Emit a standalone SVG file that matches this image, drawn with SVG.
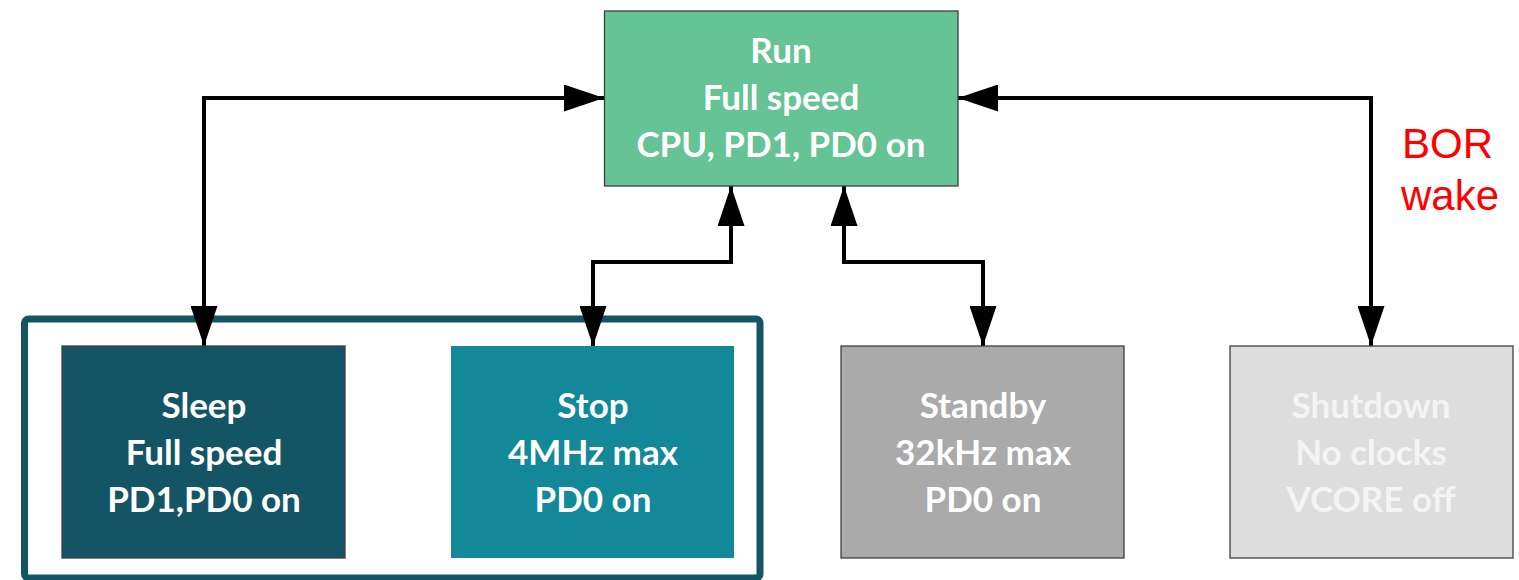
<svg xmlns="http://www.w3.org/2000/svg" width="1519" height="580" viewBox="0 0 1519 580">
<defs>
<marker id="ah" viewBox="0 0 40 27" refX="40" refY="13.5" markerWidth="40" markerHeight="27" markerUnits="userSpaceOnUse" orient="auto-start-reverse">
<path d="M0,0 L40,13.5 L0,27 Z" fill="#000"/>
</marker>
<style>
.box{stroke:#404040;stroke-width:1.3}
.t{font-family:Lato,"Open Sans","Liberation Sans",sans-serif;font-weight:bold;font-size:35px;text-anchor:middle;fill:#fff}
.c{fill:none;stroke:#000;stroke-width:4;stroke-linejoin:miter;marker-start:url(#ah);marker-end:url(#ah)}
.lbl{font-family:"Liberation Sans",Arial,sans-serif;font-size:42px;fill:#ff0000}
</style>
</defs>
<rect width="1519" height="580" fill="#fff"/>
<g id="group-frame">
<rect x="24.5" y="319" width="735.5" height="259" rx="4" fill="none" stroke="#145565" stroke-width="7"/>
</g>
<g id="connectors">
<path class="c" d="M204,346 L204,98 L604,98"/>
<path class="c" d="M593,346 L593,262 L731,262 L731,186"/>
<path class="c" d="M983,346 L983,262 L844,262 L844,186"/>
<path class="c" d="M1371,346 L1371,98 L958,98"/>
</g>
<g id="node-run">
<rect class="box" x="604.5" y="11" width="353.5" height="175" fill="#66C395"/>
<text class="t" x="781" y="63">Run</text>
<text class="t" x="781" y="110">Full speed</text>
<text class="t" x="781" y="157">CPU, PD1, PD0 on</text>
</g>
<g id="node-sleep">
<rect class="box" x="62" y="346" width="283" height="212" fill="#145565"/>
<text class="t" x="204" y="418">Sleep</text>
<text class="t" x="204" y="465">Full speed</text>
<text class="t" x="204" y="512">PD1,PD0 on</text>
</g>
<g id="node-stop">
<rect x="451" y="346" width="283" height="212" fill="#128899"/>
<text class="t" x="593" y="418">Stop</text>
<text class="t" x="593" y="465">4MHz max</text>
<text class="t" x="593" y="512">PD0 on</text>
</g>
<g id="node-standby">
<rect class="box" x="841" y="346" width="283" height="212" fill="#AAAAAA"/>
<text class="t" x="983" y="418">Standby</text>
<text class="t" x="983" y="465">32kHz max</text>
<text class="t" x="983" y="512">PD0 on</text>
</g>
<g id="node-shutdown">
<rect class="box" x="1230" y="346" width="283" height="212" fill="#DDDDDD"/>
<text class="t" x="1371" y="418" style="fill:#F4F4F4">Shutdown</text>
<text class="t" x="1371" y="465" style="fill:#F4F4F4">No clocks</text>
<text class="t" x="1371" y="512" style="fill:#F4F4F4">VCORE off</text>
</g>
<g id="label-bor">
<text class="lbl" x="1402" y="158">BOR</text>
<text class="lbl" x="1401" y="210">wake</text>
</g>
</svg>
